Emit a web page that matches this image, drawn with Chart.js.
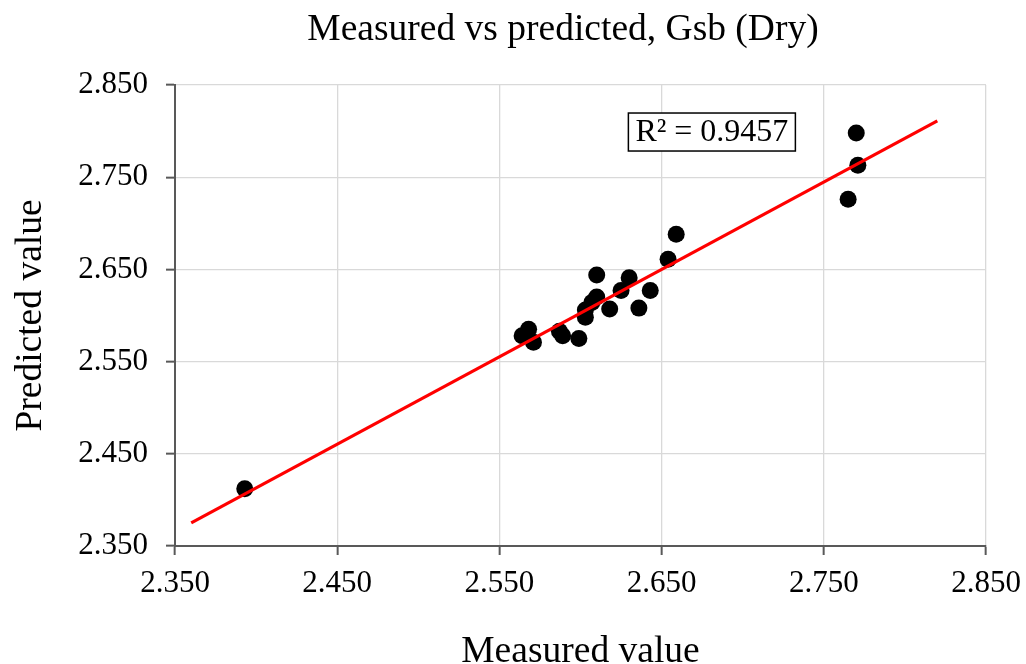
<!DOCTYPE html>
<html>
<head>
<meta charset="utf-8">
<title>Measured vs predicted, Gsb (Dry)</title>
<script src="https://cdn.jsdelivr.net/npm/chart.js@4.4.1/dist/chart.umd.min.js"></script>
<style>
    html, body { margin: 0; padding: 0; background: #fff; }
    #wrap { width: 1026px; height: 664px; }
</style>
</head>
<body>
<div id="wrap"><canvas id="gsbChart" width="1026" height="664"></canvas></div>
<script>
// measured vs predicted pairs
const measured = [2.393, 2.564, 2.568, 2.571, 2.587, 2.589, 2.599, 2.603, 2.603, 2.607, 2.610,
                  2.610, 2.618, 2.625, 2.630, 2.636, 2.643, 2.654, 2.659, 2.765, 2.771, 2.770];
const predicted = [2.412, 2.578, 2.585, 2.571, 2.583, 2.578, 2.575, 2.598, 2.606, 2.614, 2.620,
                   2.644, 2.607, 2.627, 2.641, 2.608, 2.627, 2.661, 2.688, 2.726, 2.763, 2.798];

// linear trend line end points
const trendX = [2.360, 2.820];
const trendY = [2.375, 2.811];

const xTicks = [2.35, 2.45, 2.55, 2.65, 2.75, 2.85];
const yTicks = [2.35, 2.45, 2.55, 2.65, 2.75, 2.85];

const titleText = 'Measured vs predicted, Gsb (Dry)';
const r2Text = 'R² = 0.9457';
const r2At = { x: 2.681, y: 2.799 };

const serif = "'Liberation Serif', 'Times New Roman', serif";
const axisGrey = '#595959';
const gridGrey = '#d9d9d9';

// chart title, placed a bit left of the plot centre like the original
const topTitle = {
    id: 'topTitle',
    afterDraw(chart) {
        const ctx = chart.ctx;
        ctx.save();
        ctx.fillStyle = '#000';
        ctx.font = '37.5px ' + serif;
        ctx.textAlign = 'center';
        ctx.textBaseline = 'middle';
        ctx.fillText(titleText, 563, 30);
        ctx.restore();
    }
};

const r2Box = {
    id: 'r2Box',
    afterDatasetsDraw(chart) {
        const { ctx, scales } = chart;
        const cx = scales.x.getPixelForValue(r2At.x);
        const cy = scales.y.getPixelForValue(r2At.y);
        const w = 167, h = 38;
        ctx.save();
        ctx.fillStyle = '#fff';
        ctx.fillRect(cx - w / 2, cy - h / 2, w, h);
        ctx.strokeStyle = '#000';
        ctx.lineWidth = 1.5;
        ctx.strokeRect(cx - w / 2, cy - h / 2, w, h);
        ctx.fillStyle = '#000';
        ctx.font = '32px ' + serif;
        ctx.textAlign = 'center';
        ctx.textBaseline = 'middle';
        ctx.fillText(r2Text, cx, cy + 1);
        ctx.restore();
    }
};

function axis(ticksArr, titleStr, isX) {
    return {
        type: 'linear',
        min: ticksArr[0],
        max: ticksArr[ticksArr.length - 1],
        afterBuildTicks: s => { s.ticks = ticksArr.map(v => ({ value: v })); },
        afterFit: s => {
            if (isX) {
                s.height = 664 - 546;
                s.paddingLeft = 0;
                s.paddingRight = 0;
            } else {
                s.width = 175;
            }
        },
        border: { display: true, color: axisGrey, width: 2 },
        grid: {
            color: gridGrey,
            lineWidth: 1.3,
            drawTicks: true,
            tickLength: 9,
            tickColor: axisGrey,
            tickWidth: 2
        },
        ticks: {
            color: '#000',
            padding: isX ? 10 : 18,
            font: { family: serif, size: 31 },
            callback: v => Number(v).toFixed(3)
        },
        title: {
            display: true,
            text: titleStr,
            color: '#000',
            font: { family: serif, size: 37.5, lineHeight: isX ? 0.9 : 1.2 },
            padding: isX ? { top: 0, bottom: -5 } : { top: 9, bottom: 0 }
        }
    };
}

new Chart(document.getElementById('gsbChart'), {
    type: 'scatter',
    data: {
        datasets: [
            {
                label: 'Trend',
                data: trendX.map((x, i) => ({ x, y: trendY[i] })),
                showLine: true,
                borderColor: '#ff0000',
                borderWidth: 3.2,
                pointRadius: 0,
                fill: false
            },
            {
                label: 'Gsb',
                data: measured.map((x, i) => ({ x, y: predicted[i] })),
                backgroundColor: '#000',
                borderWidth: 0,
                pointRadius: 8.5,
                pointHoverRadius: 8.5
            }
        ]
    },
    options: {
        responsive: false,
        animation: false,
        layout: { padding: { left: 0, right: 40, top: 85, bottom: 0 } },
        plugins: {
            legend: { display: false },
            tooltip: { enabled: false },
            title: { display: false }
        },
        scales: {
            x: axis(xTicks, 'Measured value', true),
            y: axis(yTicks, 'Predicted value', false)
        }
    },
    plugins: [r2Box, topTitle]
});
</script>
</body>
</html>
